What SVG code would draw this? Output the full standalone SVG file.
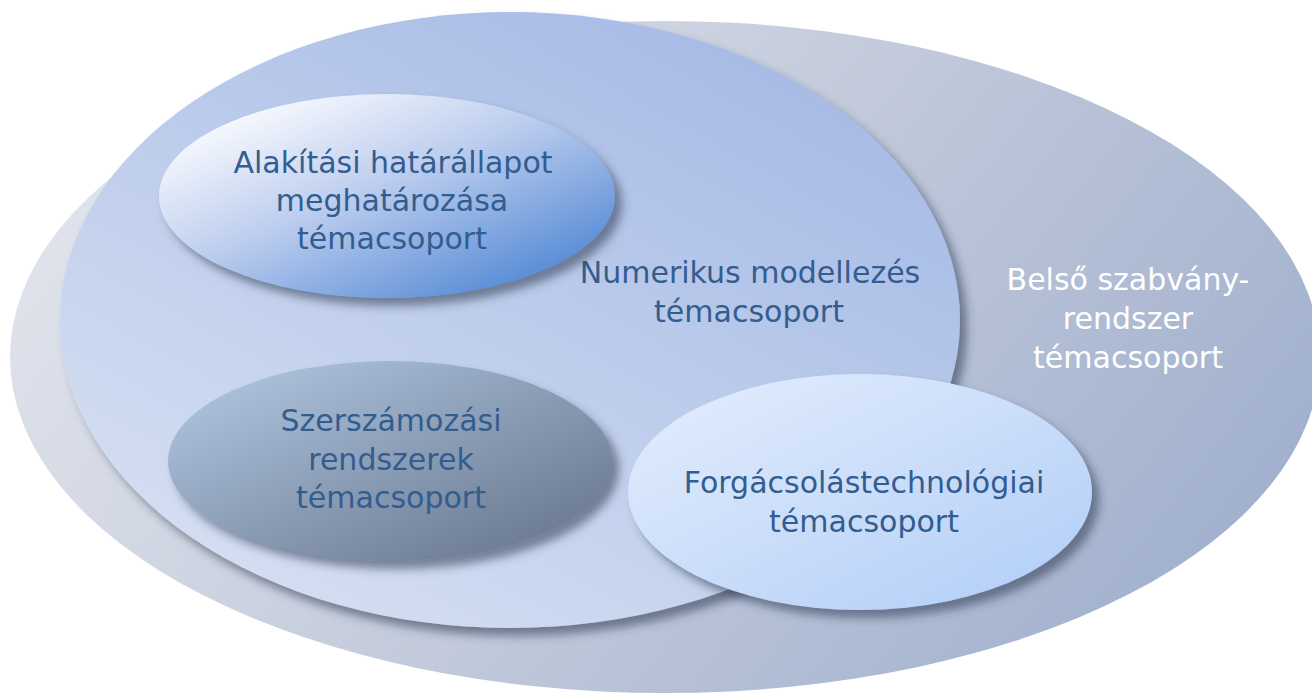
<svg xmlns="http://www.w3.org/2000/svg" width="1312" height="695" viewBox="0 0 1312 695">
<style>
.t{font-family:"DejaVu Sans","Liberation Sans",sans-serif;font-size:30px;fill:#335d8f;text-anchor:middle}
.w{fill:#ffffff}
</style>
<defs>
<linearGradient id="gOuter" x1="0" y1="0.3" x2="1" y2="0.7">
<stop offset="0" stop-color="#e1e4ec"/>
<stop offset="0.5" stop-color="#c2cadb"/>
<stop offset="1" stop-color="#9fafcd"/>
</linearGradient>
<linearGradient id="gNum" x1="0.1" y1="1" x2="0.9" y2="0">
<stop offset="0" stop-color="#d9e2f3"/>
<stop offset="1" stop-color="#a1b7e4"/>
</linearGradient>
<linearGradient id="gAla" x1="0.12" y1="0.1" x2="0.88" y2="0.9">
<stop offset="0" stop-color="#fbfcff"/>
<stop offset="0.45" stop-color="#bccdee"/>
<stop offset="1" stop-color="#5389d5"/>
</linearGradient>
<linearGradient id="gSze" x1="0.1" y1="0.1" x2="0.9" y2="0.9">
<stop offset="0" stop-color="#adc2dc"/>
<stop offset="1" stop-color="#6a7990"/>
</linearGradient>
<linearGradient id="gFor" x1="0.1" y1="0.1" x2="0.9" y2="0.9">
<stop offset="0" stop-color="#e0ebfc"/>
<stop offset="1" stop-color="#b5d0f8"/>
</linearGradient>
<filter id="sh" x="-10%" y="-10%" width="125%" height="130%">
<feGaussianBlur in="SourceAlpha" stdDeviation="5"/>
<feOffset dx="7" dy="8" result="b"/>
<feFlood flood-color="#2e3950" flood-opacity="0.55"/>
<feComposite in2="b" operator="in"/>
<feMerge><feMergeNode/><feMergeNode in="SourceGraphic"/></feMerge>
</filter>
</defs>
<rect width="1312" height="695" fill="#ffffff"/>
<g id="belso">
<ellipse cx="665" cy="357" rx="655" ry="336" fill="url(#gOuter)"/>
<text class="t w" x="1128" y="290">Belső szabvány-</text>
<text class="t w" x="1128" y="329">rendszer</text>
<text class="t w" x="1128" y="368">témacsoport</text>
</g>
<g id="numerikus">
<ellipse cx="510" cy="320" rx="450" ry="308" fill="url(#gNum)" filter="url(#sh)"/>
<text class="t" x="750" y="283">Numerikus modellezés</text>
<text class="t" x="749" y="322">témacsoport</text>
</g>
<g id="alakitasi">
<ellipse cx="387" cy="196" rx="228" ry="102" fill="url(#gAla)" filter="url(#sh)"/>
<text class="t" x="393" y="173">Alakítási határállapot</text>
<text class="t" x="392" y="211">meghatározása</text>
<text class="t" x="392" y="249">témacsoport</text>
</g>
<g id="szerszamozasi">
<ellipse cx="390" cy="461" rx="222" ry="100" fill="url(#gSze)" filter="url(#sh)"/>
<text class="t" x="391" y="431">Szerszámozási</text>
<text class="t" x="391" y="470">rendszerek</text>
<text class="t" x="391" y="508">témacsoport</text>
</g>
<g id="forgacsolas">
<ellipse cx="860" cy="492" rx="232" ry="118" fill="url(#gFor)" filter="url(#sh)"/>
<text class="t" x="864" y="493">Forgácsolástechnológiai</text>
<text class="t" x="864" y="532">témacsoport</text>
</g>
<g id="connectors"/>
</svg>
